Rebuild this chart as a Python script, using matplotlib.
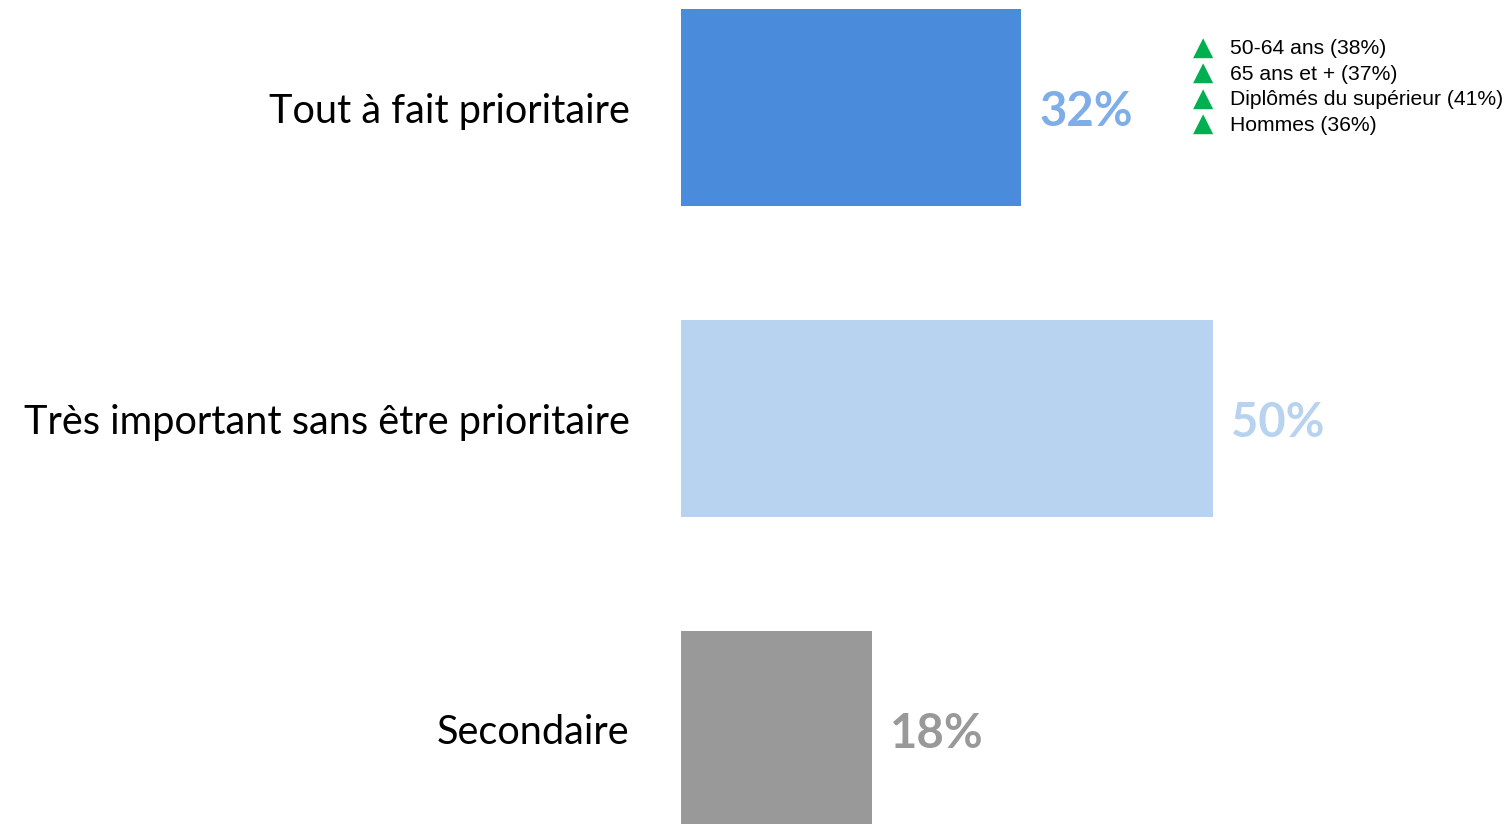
import matplotlib
matplotlib.use("Agg")
import matplotlib.pyplot as plt

categories = ["Tout à fait prioritaire", "Très important sans être prioritaire", "Secondaire"]
values = [32, 50, 18]
bar_colors = ["#4A8BDC", "#B8D3F0", "#999999"]
label_colors = ["#7EADE8", "#B8D3F0", "#999999"]
notes = ["50-64 ans (38%)", "65 ans et + (37%)", "Diplômés du supérieur (41%)", "Hommes (36%)"]

W, H = 1512, 824
fig = plt.figure(figsize=(W / 100, H / 100), dpi=100)
ax = fig.add_axes([681 / W, 0, 1 - 681 / W, 1])
ax.set_xlim(0, 831 / 10.63)
ax.set_ylim(2.304, -0.346)

pos = list(range(len(categories)))
ax.barh(pos, values, height=0.633, color=bar_colors, edgecolor="none")

for p, v, c in zip(pos, values, label_colors):
    ax.annotate(f"{v}%", xy=(v, p), xytext=(13, -3), textcoords="offset points",
                ha="left", va="center", fontsize=34, fontweight="bold",
                color=c, family=["Lato", "DejaVu Sans"])

ax.set_yticks(pos)
ax.set_yticklabels(categories, fontsize=28.6, family=["Lato", "DejaVu Sans"], color="black")
ax.tick_params(axis="y", length=0, pad=37)
ax.set_xticks([])
for s in ax.spines.values():
    s.set_visible(False)

y0 = 49
for i, t in enumerate(notes):
    yy = 1 - (y0 + i * 25.4) / H
    fig.text(1203 / W, yy + 1.5 / H, "▲", color="#00B050", fontsize=19, ha="center", va="center",
             family="DejaVu Sans")
    fig.text(1230 / W, yy, t, color="black", fontsize=15.2, ha="left", va="center",
             family="Liberation Sans")

fig.savefig("out.png", dpi=100)
